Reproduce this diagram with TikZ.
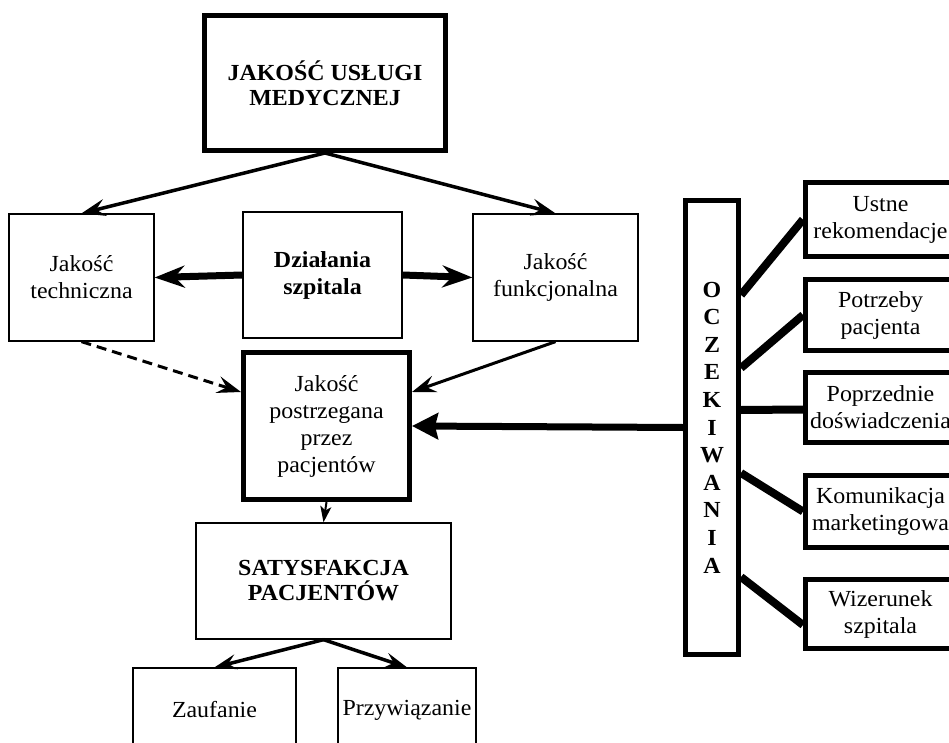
\documentclass[tikz,border=0pt]{standalone}
\usepackage{fontspec}
\setmainfont{Liberation Serif}[FakeStretch=1.04]
\usetikzlibrary{positioning, calc, arrows.meta}

\tikzset{
    box/.style={draw, line width=1.3pt, align=center, inner sep=0pt,
        font=\fontsize{23}{27}\selectfont},
    heavybox/.style={box, line width=5pt},
    arr/.style={line width=3.5pt, -{Stealth[length=24pt, width=17pt, inset=9pt]}},
    bigarr/.style={line width=7pt, -{Stealth[length=30pt, width=22pt, inset=10pt]}},
    link/.style={line width=8pt},
}

\begin{document}
\begin{tikzpicture}[x=1pt, y=-1pt]
    \clip (0,0) rectangle (949,743);

    %% main column
    \node[heavybox, font=\bfseries\fontsize{23}{25}\selectfont, minimum width=241, minimum height=135] (usluga) at (325,83) {JAKOŚĆ USŁUGI\\MEDYCZNEJ};
    \node[box, minimum width=145, minimum height=127] (techn) at (81.5,277.5) {Jakość\\techniczna};
    \node[box, font=\bfseries\fontsize{23}{27}\selectfont, minimum width=159, minimum height=126] (dzial) at (322.5,275) {Działania\\szpitala};
    \node[box, minimum width=165, minimum height=127] (funk) at (555.5,277.5) {Jakość\\funkcjonalna};
    \node[heavybox, minimum width=166, minimum height=147] (postrz) at (326.5,426) {Jakość\\postrzegana\\przez\\pacjentów};
    \node[box, font=\bfseries\fontsize{23}{25}\selectfont, minimum width=255, minimum height=116] (satysf) at (323.5,581) {SATYSFAKCJA\\PACJENTÓW};
    \node[box, minimum width=163, minimum height=84] (zauf) at (214.5,710) {Zaufanie};
    \node[box, minimum width=138, minimum height=84] (przyw) at (407,710) {Przywiązanie};

    %% expectations
    \node[heavybox, font=\bfseries\fontsize{23}{27.6}\selectfont, minimum width=53, minimum height=454] (ocz) at (712,427.5) {O\\C\\Z\\E\\K\\I\\W\\A\\N\\I\\A};
    \node[heavybox, minimum width=150, minimum height=74] (ustne) at (880.5,219.5) {Ustne\\rekomendacje};
    \node[heavybox, minimum width=150, minimum height=71] (potrz) at (880.5,315) {Potrzeby\\pacjenta};
    \node[heavybox, minimum width=150, minimum height=70] (poprz) at (880.5,407.5) {Poprzednie\\doświadczenia};
    \node[heavybox, minimum width=150, minimum height=72] (komun) at (880.5,511.5) {Komunikacja\\marketingowa};
    \node[heavybox, minimum width=150, minimum height=69] (wizer) at (880.5,614) {Wizerunek\\szpitala};

    \draw[arr] (usluga.south) -- (techn.north);
    \draw[arr] (usluga.south) -- (funk.north);
    \draw[bigarr] (dzial.west) -- (techn.east);
    \draw[bigarr] (dzial.east) -- (funk.west);
    \draw[arr, line width=3pt, dash pattern=on 10pt off 6pt] (techn.south) -- ([yshift=34pt]postrz.west);
    \draw[arr, line width=3pt] (funk.south) -- ([yshift=34pt]postrz.east);
    \draw[line width=7pt, -{Stealth[length=26pt, width=26pt, inset=3pt]}] (ocz.west) -- (postrz.east);
    \draw[line width=2pt, -{Stealth[length=16pt, width=11pt, inset=4pt]}] (postrz.south) -- (satysf.north);
    \draw[arr, -{Stealth[length=22pt, width=15pt, inset=8pt]}] (satysf.south) -- (zauf.north);
    \draw[arr, -{Stealth[length=22pt, width=15pt, inset=8pt]}] (satysf.south) -- (przyw.north);

    \draw[link] ([yshift=-97pt]ocz.north east) -- (ustne.west);
    \draw[link] ([yshift=-170pt]ocz.north east) -- (potrz.west);
    \draw[link] ([yshift=-212pt]ocz.north east) -- ([yshift=-2pt]poprz.west);
    \draw[link] ([yshift=-275pt]ocz.north east) -- (komun.west);
    \draw[link] ([yshift=-379pt]ocz.north east) -- ([yshift=-11pt]wizer.west);

\end{tikzpicture}
\end{document}
